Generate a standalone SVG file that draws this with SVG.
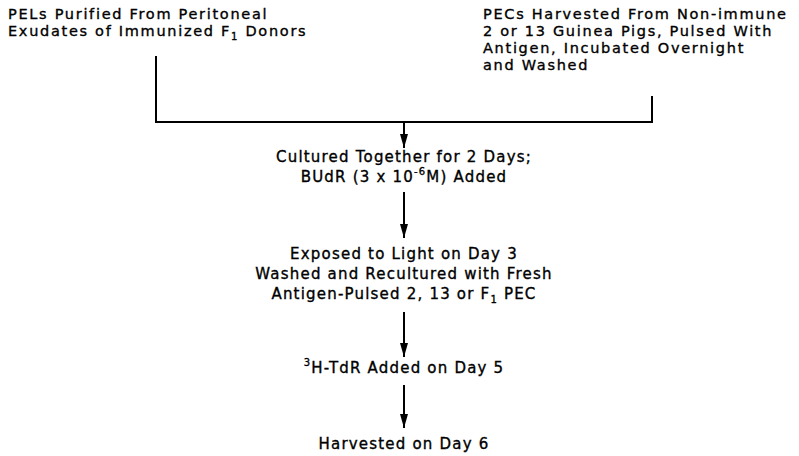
<svg xmlns="http://www.w3.org/2000/svg" width="799" height="456" viewBox="0 0 799 456">
<defs>
<marker id="ah" viewBox="0 0 14 8" refX="14" refY="4" markerWidth="14" markerHeight="8" markerUnits="userSpaceOnUse" orient="auto">
<path d="M0,0 L14,4 L0,8 Z" fill="#000"/>
</marker>
</defs>
<style>
text{font-family:"DejaVu Sans","Liberation Sans",sans-serif;font-size:15px;letter-spacing:1.2px;fill:#000;stroke:#000;stroke-width:0.35}
.t{font-size:14.5px;letter-spacing:1.7px}
.c{text-anchor:middle}
.s{font-size:10px}
.ln{stroke:#000;stroke-width:2;fill:none}
.ar{stroke:#000;stroke-width:2;fill:none}
</style>
<rect width="799" height="456" fill="#fff"/>
<g id="node-pels">
<text class="t" x="8" y="19">PELs Purified From Peritoneal</text>
<text class="t" x="8" y="36">Exudates of Immunized F<tspan class="s" dy="4">1</tspan><tspan dy="-4"> Donors</tspan></text>
</g>
<g id="node-pecs">
<text class="t" x="483" y="19">PECs Harvested From Non-immune</text>
<text class="t" x="483" y="36">2 or 13 Guinea Pigs, Pulsed With</text>
<text class="t" x="483" y="53">Antigen, Incubated Overnight</text>
<text class="t" x="483" y="70">and Washed</text>
</g>
<g id="node-culture">
<text class="c" x="404" y="162">Cultured Together for 2 Days;</text>
<text class="c" x="404" y="182">BUdR (3 x 10<tspan class="s" dy="-7">-6</tspan><tspan dy="7">M) Added</tspan></text>
</g>
<g id="node-light">
<text class="c" x="404" y="259">Exposed to Light on Day 3</text>
<text class="c" x="404" y="279">Washed and Recultured with Fresh</text>
<text class="c" x="404" y="299">Antigen-Pulsed 2, 13 or F<tspan class="s" dy="4">1</tspan><tspan dy="-4"> PEC</tspan></text>
</g>
<g id="node-tdr">
<text class="c" x="404" y="373"><tspan class="s" dy="-7">3</tspan><tspan dy="7">H-TdR Added on Day 5</tspan></text>
</g>
<g id="node-harvest">
<text class="c" x="404" y="449">Harvested on Day 6</text>
</g>
<g id="connectors">
<path class="ln" d="M156,56 V122 H652 V96"/>
<line class="ar" x1="404" y1="122" x2="404" y2="148" marker-end="url(#ah)"/>
<line class="ar" x1="404" y1="192" x2="404" y2="238" marker-end="url(#ah)"/>
<line class="ar" x1="404" y1="312" x2="404" y2="357" marker-end="url(#ah)"/>
<line class="ar" x1="404" y1="385" x2="404" y2="428" marker-end="url(#ah)"/>
</g>
</svg>
